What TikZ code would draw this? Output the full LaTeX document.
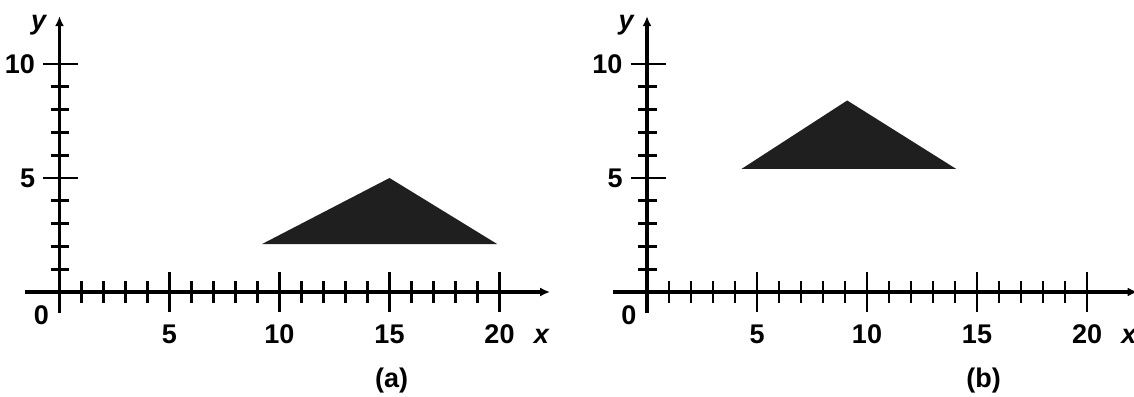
\documentclass[tikz,border=0pt]{standalone}
\usepackage{fontspec}
\setmainfont{Liberation Sans}
\usetikzlibrary{arrows.meta}

\begin{document}
\begin{tikzpicture}[x=11pt, y=11.4pt,
  every node/.style={font=\fontsize{13.5}{15}\selectfont\bfseries, inner sep=0pt},
  axisline/.style={line width=1.6pt, -{Latex[length=5pt,width=4.5pt]}},
  tickline/.style={line width=1.4pt},
  shadedtri/.style={fill=black!88}]
  \useasboundingbox (-29.75pt,-52pt) rectangle (537.25pt,146pt);
  % the two coordinate frames
  \foreach \p/\sx/\cx in {a/0pt/15.1, b/293.75pt/15.3} {
    \begin{scope}[xshift=\sx]
      \draw[axisline] (-1.55,0) -- (22.3,0);
      \draw[axisline] (0,-0.9) -- (0,12.1);
      \foreach \i in {1,2,3,4,6,7,8,9,11,12,13,14,16,17,18,19}
        \draw[tickline] (\i,-0.48) -- (\i,0.48);
      \foreach \i in {5,10,15,20} {
        \draw[tickline] (\i,-0.87) -- (\i,0.87);
        \node (\p-x\i) at (\i,-1.87) {\i};
      }
      \foreach \j in {1,2,3,4,6,7,8,9}
        \draw[tickline] (-0.4,\j) -- (0.45,\j);
      \foreach \j in {5,10}
        \draw[tickline] (-0.75,\j) -- (0.85,\j);
      \node (\p-y5) at (-1.45,5) {5};
      \node (\p-y10) at (-1.8,10) {10};
      \node (\p-zero) at (-0.82,-1.0) {0};
      \node (\p-ylab) at (-0.95,11.7) {\itshape y};
      \node (\p-xlab) at (21.9,-1.96) {\itshape x};
      \node (\p-cap) at (\cx,-3.9) {(\p)};
    \end{scope}
  }
  % triangle before and after the move
  \fill[shadedtri] (9.2,2.1) -- (15,5) -- (19.9,2.1) -- cycle;
  \begin{scope}[xshift=293.75pt]
    \fill[shadedtri] (4.3,5.4) -- (9.1,8.4) -- (14.05,5.4) -- cycle;
  \end{scope}
\end{tikzpicture}
\end{document}
